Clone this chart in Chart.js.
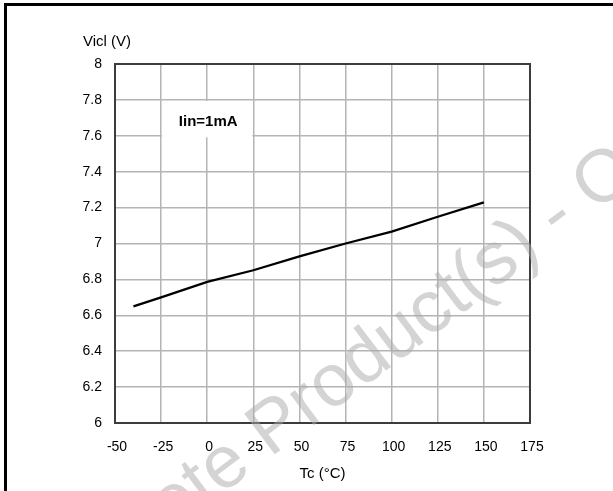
<!DOCTYPE html>
<html>
<head>
<meta charset="utf-8">
<script src="https://cdn.jsdelivr.net/npm/chart.js@4"></script>
<style>
  html, body { margin: 0; padding: 0; background: #fff; }
  #wrap { width: 613px; height: 491px; position: relative; }
</style>
</head>
<body>
<div id="wrap"><canvas id="grafico"></canvas></div>
<script>
// dados
const temperaturas = [-40, -25, 0, 25, 50, 75, 100, 125, 150];
const tensoes = [6.65, 6.70, 6.786, 6.851, 6.928, 7.0, 7.066, 7.149, 7.229];
const xTicks = [-50, -25, 0, 25, 50, 75, 100, 125, 150, 175];
const yTicks = [6, 6.2, 6.4, 6.6, 6.8, 7, 7.2, 7.4, 7.6, 7.8, 8];
const tituloY = "Vicl (V)";
const tituloX = "Tc (°C)";
const rotulo = "Iin=1mA";
const marcaDagua = "Obsolete Product(s) - Obsolete Product(s)";

const fonte = "'Liberation Sans', Arial, Helvetica, sans-serif";

// moldura, caixa do rótulo e textos extras
const extras = {
  id: "extras",
  beforeDatasetsDraw(chart) {
    const { ctx, chartArea: a, scales } = chart;
    // caixa branca do rótulo
    const x1 = scales.x.getPixelForValue(-25) + 1;
    const x2 = scales.x.getPixelForValue(25) - 1;
    const y1 = scales.y.getPixelForValue(7.8) + 1;
    const y2 = scales.y.getPixelForValue(7.6) + 1.5;
    ctx.save();
    ctx.fillStyle = "#fff";
    ctx.fillRect(x1, y1, x2 - x1, y2 - y1);
    ctx.strokeStyle = "#3c3c3c";
    ctx.lineWidth = 2;
    ctx.strokeRect(a.left, a.top, a.right - a.left, a.bottom - a.top);
    ctx.fillStyle = "#000";
    ctx.font = "bold 15px " + fonte;
    ctx.textAlign = "center";
    ctx.textBaseline = "middle";
    ctx.fillText(rotulo, (x1 + x2) / 2 + 1, (y1 + y2) / 2 + 3);
    ctx.font = "15px " + fonte;
    ctx.textAlign = "left";
    ctx.fillText(tituloY, 83, 42);
    ctx.restore();
  },
  afterDraw(chart) {
    const { ctx } = chart;
    ctx.save();
    // marca d'água
    ctx.font = "74px " + fonte;
    ctx.fillStyle = "rgba(170,170,170,0.5)";
    ctx.textBaseline = "alphabetic";
    ctx.translate(270, 458);
    ctx.rotate(-37 * Math.PI / 180);
    const off = ctx.measureText("Obsolete ").width;
    ctx.fillText(marcaDagua, -off, 0);
    ctx.restore();
    // moldura da figura
    ctx.save();
    ctx.fillStyle = "#000";
    ctx.fillRect(4, 3, 609, 3);
    ctx.fillRect(4, 3, 3, 488);
    ctx.restore();
  }
};

const ctx = document.getElementById("grafico").getContext("2d");
new Chart(ctx, {
  type: "line",
  data: {
    datasets: [{
      data: temperaturas.map((t, i) => ({ x: t, y: tensoes[i] })),
      borderColor: "#000",
      borderWidth: 2.3,
      pointRadius: 0,
      tension: 0,
      fill: false
    }]
  },
  options: {
    responsive: true,
    maintainAspectRatio: false,
    animation: false,
    layout: { padding: { top: 64, right: 83, left: 0, bottom: 0 } },
    plugins: {
      legend: { display: false },
      tooltip: { enabled: false }
    },
    scales: {
      x: {
        type: "linear",
        min: -50,
        max: 175,
        afterBuildTicks: (s) => { s.ticks = xTicks.map(v => ({ value: v })); },
        afterFit: (s) => { s.height = 68; },
        ticks: {
          color: "#000",
          font: { family: fonte, size: 14 },
          padding: 16,
          labelOffset: 2,
          maxRotation: 0,
          autoSkip: false,
          callback: (v) => String(v)
        },
        grid: { color: "#b4b4b4", lineWidth: 1.5, drawTicks: false },
        border: { display: false },
        title: {
          display: true,
          text: tituloX,
          color: "#000",
          font: { family: fonte, size: 15 },
          padding: { top: 0, bottom: 8 }
        }
      },
      y: {
        type: "linear",
        min: 6,
        max: 8,
        afterBuildTicks: (s) => { s.ticks = yTicks.map(v => ({ value: v })); },
        afterFit: (s) => { s.width = 115; },
        ticks: {
          color: "#000",
          font: { family: fonte, size: 14 },
          padding: 13,
          autoSkip: false,
          callback: (v) => String(Math.round(v * 10) / 10)
        },
        grid: { color: "#b4b4b4", lineWidth: 1.5, drawTicks: false },
        border: { display: false }
      }
    }
  },
  plugins: [extras]
});
</script>
</body>
</html>
